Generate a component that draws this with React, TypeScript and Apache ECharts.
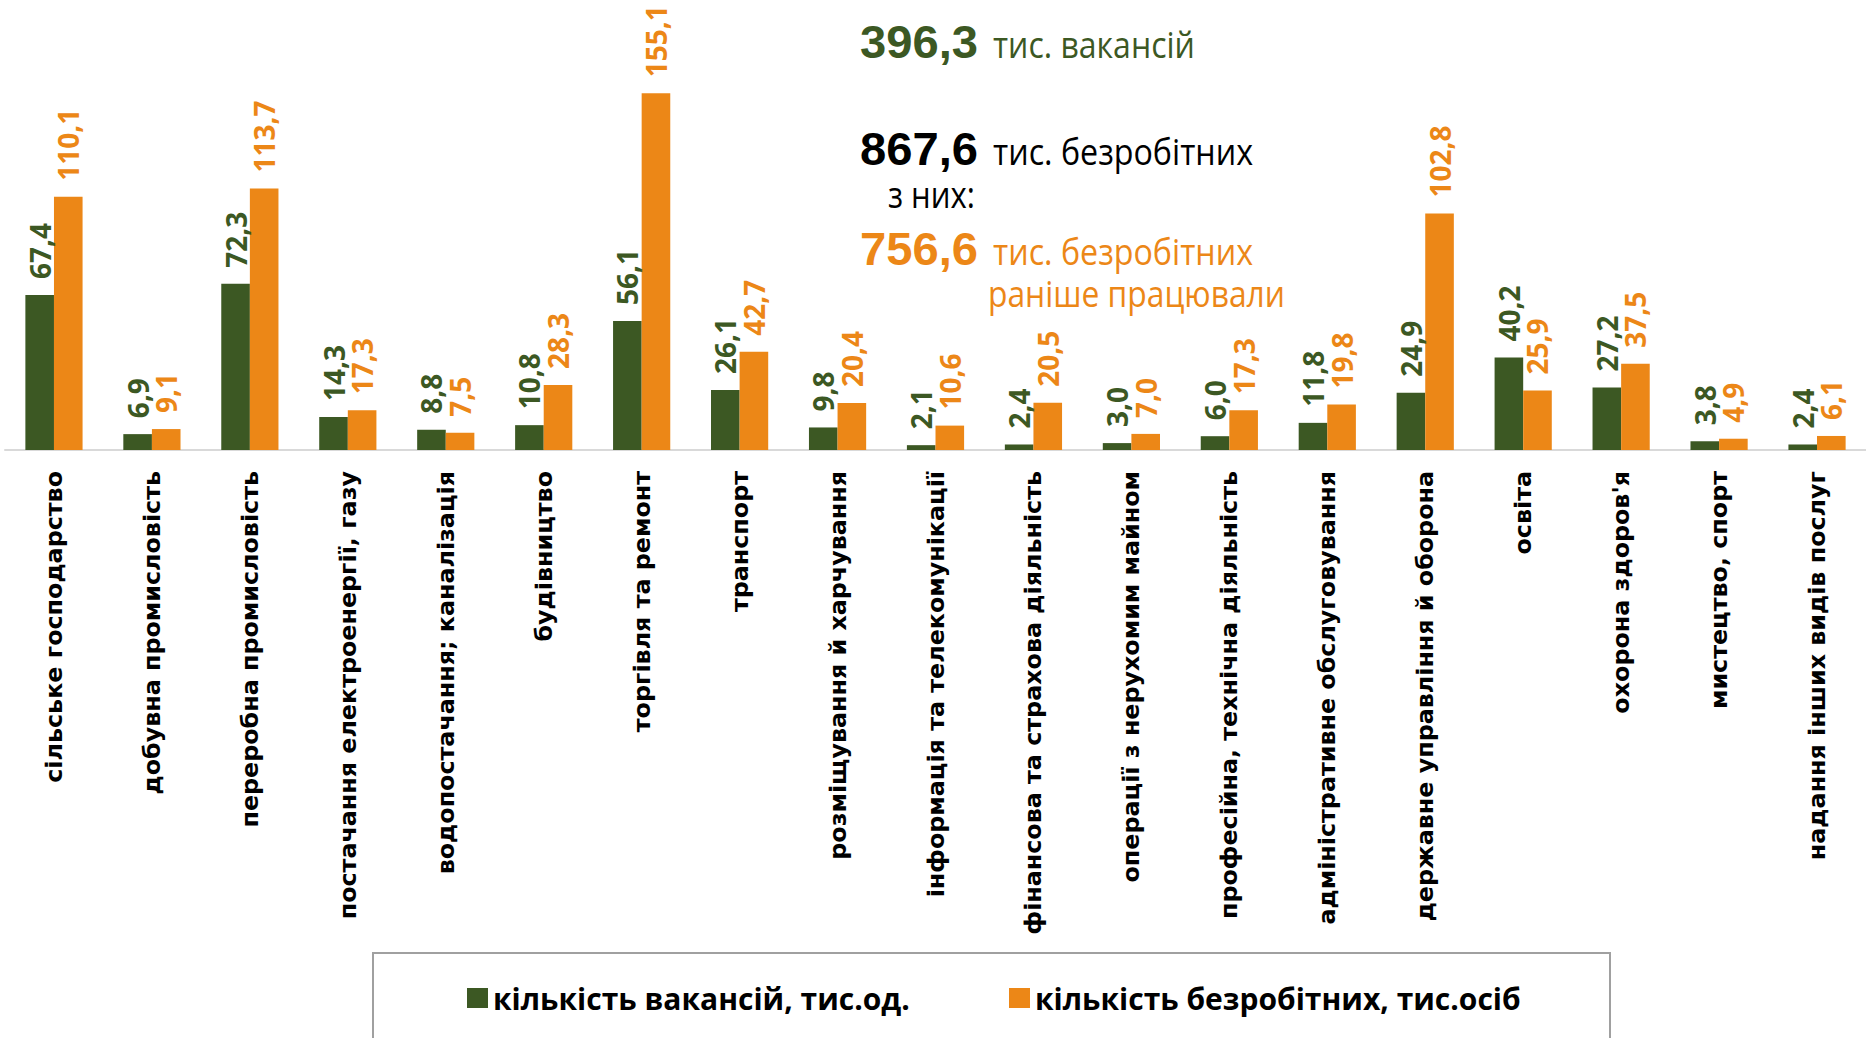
import React, { useEffect, useRef } from 'react';
import * as echarts from 'echarts';

const CATEGORIES = [
  'сільське господарство',
  'добувна промисловість',
  'переробна промисловість',
  'постачання електроенергії, газу',
  'водопостачання; каналізація',
  'будівництво',
  'торгівля та ремонт',
  'транспорт',
  'розміщування й харчування',
  'інформація та телекомунікації',
  'фінансова та страхова діяльність',
  'операції з нерухомим майном',
  'професійна, технічна діяльність',
  'адміністративне обслуговування',
  'державне управління й оборона',
  'освіта',
  "охорона здоров'я",
  'мистецтво, спорт',
  'надання інших видів послуг',
];

const VACANCIES = [67.4, 6.9, 72.3, 14.3, 8.8, 10.8, 56.1, 26.1, 9.8, 2.1, 2.4, 3.0, 6.0, 11.8, 24.9, 40.2, 27.2, 3.8, 2.4];
const UNEMPLOYED = [110.1, 9.1, 113.7, 17.3, 7.5, 28.3, 155.1, 42.7, 20.4, 10.6, 20.5, 7.0, 17.3, 19.8, 102.8, 25.9, 37.5, 4.9, 6.1];

const SERIES_NAMES = ['кількість вакансій, тис.од.', 'кількість безробітних, тис.осіб'];

const TOTAL_VACANCIES = '396,3';
const TOTAL_UNEMPLOYED = '867,6';
const PREV_WORKED = '756,6';
const TEXT_VACANCIES = 'тис. вакансій';
const TEXT_UNEMPLOYED = 'тис. безробітних';
const TEXT_OF_THEM = 'з них:';
const TEXT_WORKED_BEFORE = 'раніше працювали';

const GREEN = '#3C5823';
const ORANGE = '#EC8717';

export default function App() {
  const ref = useRef<HTMLDivElement>(null);

  useEffect(() => {
    const el = ref.current;
    if (!el) return;
    const chart = echarts.init(el, null, { renderer: 'svg' });

    const ctx = document.createElement('canvas').getContext('2d') as CanvasRenderingContext2D;
    const fit = (text: string, font: string, width: number) => {
      ctx.font = font;
      const w = ctx.measureText(text).width;
      return w > 0 ? width / w : 1;
    };

    const txt = (
      text: string,
      left: number,
      baseline: number,
      size: number,
      weight: string,
      family: string,
      color: string,
      width: number,
      centralRatio: number
    ) => {
      const font = `${weight} ${size}px ${family}`;
      return {
        type: 'text',
        x: left,
        y: baseline - size * centralRatio,
        scaleX: fit(text, font, width),
        silent: true,
        style: {
          text,
          x: 0,
          y: 0,
          fill: color,
          font,
          align: 'left',
          verticalAlign: 'middle',
        },
      };
    };

    const numFam = '"Liberation Sans", Arial, sans-serif';
    const txtFam = '"Open Sans", sans-serif';

    const fmt = (p: any) => Number(p.value).toFixed(1).replace('.', ',');

    const labelBase = {
      show: true,
      position: 'top',
      rotate: 90,
      align: 'left',
      verticalAlign: 'middle',
      distance: 16,
      fontFamily: '"Open Sans", sans-serif',
      fontWeight: 'bold',
      fontSize: 28,
      formatter: fmt,
    };

    const legendText = { fontFamily: '"Open Sans", sans-serif', fontWeight: 'bold', fontSize: 30, color: '#000' };

    const option: any = {
      animation: false,
      backgroundColor: '#ffffff',
      grid: { left: 5, top: 0, width: 1867, height: 450, containLabel: false },
      xAxis: {
        type: 'category',
        data: CATEGORIES,
        axisLine: { show: true, lineStyle: { color: '#d9d9d9', width: 2 } },
        axisTick: { show: false },
        axisLabel: {
          interval: 0,
          rotate: 90,
          margin: 21,
          color: '#000000',
          fontFamily: '"DejaVu Sans", Verdana, sans-serif',
          fontWeight: 'bold',
          fontSize: 23.8,
        },
      },
      yAxis: { type: 'value', min: 0, max: 195.6, show: false, splitLine: { show: false } },
      legend: [
        {
          data: [SERIES_NAMES[0]],
          left: 467,
          top: 983,
          padding: 0,
          icon: 'rect',
          itemWidth: 21,
          itemHeight: 20,
          textStyle: legendText,
        },
        {
          data: [SERIES_NAMES[1]],
          left: 1009,
          top: 983,
          padding: 0,
          icon: 'rect',
          itemWidth: 21,
          itemHeight: 20,
          textStyle: legendText,
        },
      ],
      series: [
        {
          name: SERIES_NAMES[0],
          type: 'bar',
          data: VACANCIES,
          barWidth: 28.6,
          barGap: '0%',
          itemStyle: { color: GREEN },
          label: { ...labelBase, color: GREEN },
        },
        {
          name: SERIES_NAMES[1],
          type: 'bar',
          data: UNEMPLOYED,
          barWidth: 28.6,
          barGap: '0%',
          itemStyle: { color: ORANGE },
          label: { ...labelBase, color: ORANGE },
        },
      ],
      graphic: [
        {
          type: 'rect',
          silent: true,
          shape: { x: 373, y: 953, width: 1237, height: 120 },
          style: { fill: 'none', stroke: '#a0a0a0', lineWidth: 2 },
        },
        txt(TOTAL_VACANCIES, 860, 58, 47, 'bold', numFam, GREEN, 118, 0.35),
        txt(TEXT_VACANCIES, 993, 58, 37, 'normal', txtFam, GREEN, 202, 0.39),
        txt(TOTAL_UNEMPLOYED, 860, 165, 47, 'bold', numFam, '#000000', 118, 0.35),
        txt(TEXT_UNEMPLOYED, 993, 165, 37, 'normal', txtFam, '#000000', 260, 0.39),
        txt(TEXT_OF_THEM, 888, 208, 37, 'normal', txtFam, '#000000', 87, 0.39),
        txt(PREV_WORKED, 860, 265, 47, 'bold', numFam, ORANGE, 118, 0.35),
        txt(TEXT_UNEMPLOYED, 993, 265, 37, 'normal', txtFam, ORANGE, 260, 0.39),
        txt(TEXT_WORKED_BEFORE, 988, 307, 37, 'normal', txtFam, ORANGE, 297, 0.39),
      ],
    };

    chart.setOption(option);
    return () => {
      chart.dispose();
    };
  }, []);

  return (
    <div
      ref={ref}
      style={{ position: 'fixed', left: 0, top: 0, width: 1866, height: 1038, background: '#ffffff' }}
    />
  );
}
